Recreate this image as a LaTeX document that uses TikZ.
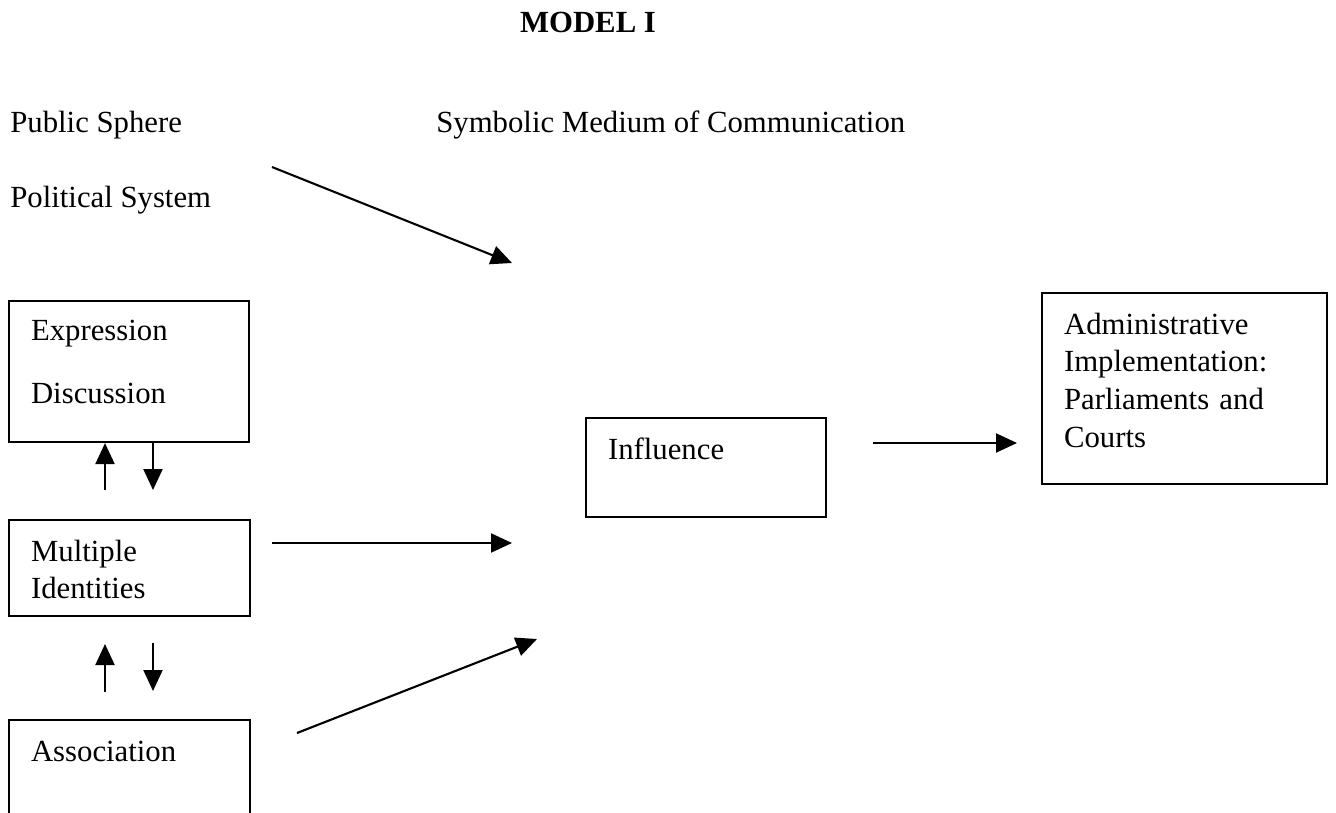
\documentclass[tikz,border=0pt]{standalone}
\usepackage{fontspec}
\setmainfont{Liberation Serif}
\usepackage{tikz}
\usetikzlibrary{positioning, arrows.meta}

\tikzset{
  txt/.style={inner sep=0pt, anchor=base west},
  box/.style={draw, line width=1.2pt, anchor=north west, align=left,
    inner xsep=0.44cm, inner ysep=0.4cm, text height=0.42cm},
  flow/.style={-{Triangle[length=0.42cm, width=0.38cm]}, line width=1.2pt}
}

\begin{document}
\begin{tikzpicture}[x=0.02cm, y=-0.02cm, every node/.style={font=\fontsize{17.5}{21.5}\selectfont}]
  \useasboundingbox (0,0) rectangle (1336,812);

  % headings
  \node[txt, anchor=base, font=\fontsize{17.5}{21.5}\selectfont\bfseries] (title) at (588,32) {MODEL I};
  \node[txt] (public) at (10,132) {Public Sphere};
  \node[txt] (symbolic) at (436,132) {Symbolic Medium of Communication};
  \node[txt] (political) at (10,207) {Political System};

  % left column
  \node[box, text width=3.92cm, inner ysep=0.36cm, text depth=1.68cm] (expr) at (8,300)
    {Expression\\[0.52cm]Discussion};
  \node[box, text width=3.94cm, text depth=0.7cm] (mult) at (8,519)
    {Multiple\\Identities};
  \node[box, text width=3.94cm, text depth=1.2cm] (assoc) at (8,719)
    {Association};

  % middle and right
  \node[box, text width=3.92cm, text depth=0.76cm] (infl) at (585,417)
    {Influence};
  \node[box, text width=4.82cm, text depth=2.6cm] (admin) at (1041,292)
    {Administrative\\Implementation:\\Parliaments and\\Courts};

  % free ends
  \coordinate (up1) at (105,490);
  \coordinate (dn1) at (153,490);
  \coordinate (up2a) at (105,692);
  \coordinate (up2b) at (105,644);
  \coordinate (dn2a) at (153,643);
  \coordinate (dn2b) at (153,691);
  \coordinate (ps0) at (272,167);
  \coordinate (ps1) at (512,263);
  \coordinate (mi0) at (272,543);
  \coordinate (mi1) at (512,543);
  \coordinate (as0) at (297,733);
  \coordinate (as1) at (537,639);
  \coordinate (in0) at (873,443);
  \coordinate (in1) at (1017,443);

  \draw[flow] (up1) -- (up1 |- expr.south);
  \draw[flow] (dn1 |- expr.south) -- (dn1);
  \draw[flow] (up2a) -- (up2b);
  \draw[flow] (dn2a) -- (dn2b);
  \draw[flow] (ps0) -- (ps1);
  \draw[flow] (mi0) -- (mi1);
  \draw[flow] (as0) -- (as1);
  \draw[flow] (in0) -- (in1);
\end{tikzpicture}
\end{document}
